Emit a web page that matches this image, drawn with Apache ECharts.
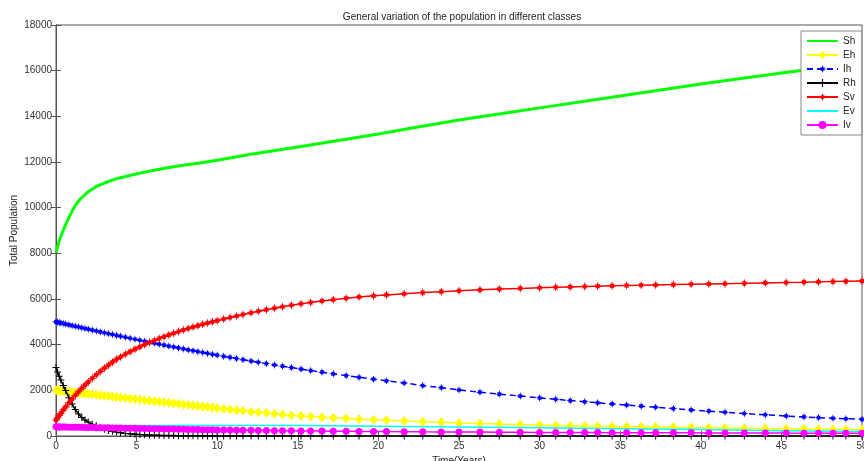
<!DOCTYPE html>
<html>
<head>
<meta charset="utf-8">
<script src="https://cdn.jsdelivr.net/npm/echarts@6/dist/echarts.min.js"></script>
<style>html,body{margin:0;padding:0;background:#fff}#c{width:864px;height:461px}</style>
</head>
<body>
<div id="c"></div>
<script>
// time points (years) of the solver output
var t = [0,0.1,0.2,0.3,0.45,0.6,0.8,1.0,1.2,1.4,1.6,1.8,2.0,2.25,2.5,2.75,3.0,3.25,3.5,3.75,4.0,4.3,4.6,4.9,5.2,5.5,5.8,6.1,6.4,6.7,7.0,7.3,7.6,7.9,8.2,8.5,8.8,9.1,9.4,9.7,10.0,10.4,10.8,11.2,11.6,12.1,12.55,13.05,13.55,14.05,14.6,15.2,15.8,16.5,17.2,18.0,18.8,19.7,20.5,21.6,22.75,23.9,25.0,26.3,27.5,28.8,30.0,31.0,31.9,32.8,33.6,34.5,35.4,36.3,37.2,38.3,39.4,40.5,41.5,42.7,44.0,45.3,46.4,47.3,48.2,49.0,50.0];

var Eh = [2000,1992,1984,1977,1965,1953,1938,1922,1906,1891,1875,1860,1844,1825,1805,1786,1766,1747,1727,1708,1688,1665,1641,1618,1594,1571,1548,1524,1501,1477,1454,1430,1407,1384,1360,1337,1314,1290,1267,1244,1220,1190,1160,1130,1101,1065,1035,1003,972,942,911,880,852,822,794,765,738,710,686,655,625,597,572,545,522,500,480,465,452,440,430,420,410,400,391,380,370,360,350,339,327,315,305,297,289,282,274];

var Ih = [5000,4984,4967,4951,4926,4902,4869,4837,4805,4773,4741,4709,4678,4638,4599,4560,4522,4484,4446,4408,4370,4326,4281,4237,4193,4150,4107,4064,4022,3980,3938,3897,3856,3815,3775,3735,3695,3656,3617,3579,3540,3489,3440,3390,3342,3282,3229,3170,3113,3057,2996,2931,2867,2795,2724,2646,2570,2487,2416,2322,2210,2115,2015,1920,1835,1750,1670,1610,1550,1500,1455,1405,1355,1305,1260,1200,1140,1088,1040,985,930,876,835,805,778,755,730];

var Rh = [3000,2800,2620,2450,2210,1990,1680,1400,1160,960,810,700,610,520,445,375,300,245,205,170,140,115,95,78,64,53,44,36,30,25,21,18,15,12,10,9,7,6,5,4,4,3,3,2,2,2,1,1,1,1,1,0,0,0,0,0,0,0,0,0,0,0,0,0,0,0,0,0,0,0,0,0,0,0,0,0,0,0,0,0,0,0,0,0,0,0,0];

var Sv = [700,800,898,995,1137,1275,1452,1622,1785,1940,2088,2230,2365,2527,2682,2830,2971,3106,3235,3358,3460,3580,3695,3803,3905,4002,4095,4183,4268,4350,4428,4503,4575,4643,4708,4771,4832,4890,4946,5000,5052,5122,5190,5256,5320,5396,5462,5532,5598,5660,5725,5790,5850,5914,5972,6032,6085,6138,6180,6232,6280,6322,6360,6400,6433,6465,6492,6513,6530,6546,6560,6575,6589,6602,6615,6630,6645,6659,6671,6685,6705,6722,6737,6750,6762,6773,6785];

var Iv = [400,398,397,395,393,391,388,386,383,380,378,375,372,369,366,362,359,356,352,349,346,342,338,334,330,326,322,318,314,310,306,302,298,294,290,286,282,278,275,271,267,263,259,255,251,247,243,239,235,231,227,222,218,214,210,205,201,196,192,188,183,179,175,170,166,162,158,155,153,151,149,147,145,143,141,139,137,135,133,131,129,126,124,122,120,118,116];

// unmarked series with their own sampling
var shT = [0,0.2,0.45,0.7,1.0,1.2,1.5,2.0,2.5,3.0,3.75,5,6,7,8,9,10,12,15,18,20,22,25,28,30,35,40,45,50];
var Sh  = [8030,8550,9020,9420,9850,10100,10380,10700,10930,11080,11270,11480,11630,11760,11870,11970,12080,12330,12660,13000,13230,13480,13840,14160,14370,14890,15420,15900,16350];
var evT = [0,1,2,3,5,8,10,12,15,20,25,30,35,40,45,50];
var Ev  = [400,415,430,440,455,465,465,462,455,430,395,360,320,280,235,195];

var xTicks = {min: 0, max: 50, interval: 5};
var yTicks = {min: 0, max: 18000, interval: 2000};

function pairs(xs, ys) { return xs.map(function (x, i) { return [x, ys[i]]; }); }

var FONT = 'Liberation Sans, Arial, sans-serif';
var star8 = 'path://M5,0L5.9,3L7.6,2.4L7,4.1L10,5L7,5.9L7.6,7.6L5.9,7L5,10L4.1,7L2.4,7.6L3,5.9L0,5L3,4.1L2.4,2.4L4.1,3Z';
var plus = 'path://M4.3,0H5.7V4.3H10V5.7H5.7V10H4.3V5.7H0V4.3H4.3Z';

var chart = echarts.init(document.getElementById('c'), null, {renderer: 'canvas'});
var axisCol = '#555';
chart.setOption({
  animation: false,
  backgroundColor: '#fff',
  title: {
    text: 'General variation of the population in different classes',
    left: 457, top: 7, textAlign: 'center',
    textStyle: {fontSize: 10, fontWeight: 'normal', color: '#222', fontFamily: FONT}
  },
  grid: {left: 56, right: 2, top: 25, bottom: 25, containLabel: false, outerBoundsMode: 'none',
         show: true, borderColor: axisCol, borderWidth: 1, backgroundColor: '#fff'},
  legend: {
    orient: 'vertical', left: 801, top: 31,
    padding: [5, 6, 5, 5], itemGap: 4, itemWidth: 31, itemHeight: 10,
    backgroundColor: '#fff', borderColor: '#888', borderWidth: 1, borderRadius: 0,
    textStyle: {fontSize: 10, color: '#222', fontFamily: FONT, lineHeight: 10},
    data: [
      {name: 'Sh', itemStyle: {opacity: 0}},
      'Eh', 'Ih', 'Rh', 'Sv',
      {name: 'Ev', itemStyle: {opacity: 0}},
      'Iv'
    ]
  },
  xAxis: [{
    type: 'value', min: xTicks.min, max: xTicks.max, interval: xTicks.interval,
    name: 'Time(Years)', nameLocation: 'middle', nameGap: 20, nameMoveOverlap: false,
    nameTextStyle: {fontSize: 10, color: '#222', fontFamily: FONT},
    axisLine: {show: true, lineStyle: {color: axisCol}},
    axisTick: {show: true, inside: true, length: 5, lineStyle: {color: axisCol}},
    axisLabel: {fontSize: 10, color: '#333', fontFamily: FONT, margin: 5},
    splitLine: {show: false}
  }, {
    type: 'value', position: 'top', min: xTicks.min, max: xTicks.max, interval: xTicks.interval,
    axisLine: {show: true, lineStyle: {color: axisCol}},
    axisTick: {show: true, inside: true, length: 5, lineStyle: {color: axisCol}},
    axisLabel: {show: false}, splitLine: {show: false}
  }],
  yAxis: [{
    type: 'value', min: yTicks.min, max: yTicks.max, interval: yTicks.interval,
    name: 'Total Population', nameLocation: 'middle', nameGap: 37, nameMoveOverlap: false,
    nameTextStyle: {fontSize: 10, color: '#222', fontFamily: FONT},
    axisLine: {show: true, lineStyle: {color: axisCol}},
    axisTick: {show: true, inside: true, length: 5, lineStyle: {color: axisCol}},
    axisLabel: {fontSize: 10, color: '#333', fontFamily: FONT, margin: 4,
                formatter: function (v) { return String(v); }},
    splitLine: {show: false}
  }, {
    type: 'value', position: 'right', min: yTicks.min, max: yTicks.max, interval: yTicks.interval,
    axisLine: {show: true, lineStyle: {color: axisCol}},
    axisTick: {show: true, inside: true, length: 5, lineStyle: {color: axisCol}},
    axisLabel: {show: false}, splitLine: {show: false}
  }],
  series: [
    {name: 'Sh', type: 'line', data: pairs(shT, Sh), showSymbol: false, symbol: 'none',
     lineStyle: {color: '#00ff00', width: 3}, itemStyle: {color: '#00ff00'}, z: 2},
    {name: 'Eh', type: 'line', data: pairs(t, Eh), symbol: 'diamond', symbolSize: [8, 10], showAllSymbol: true,
     lineStyle: {color: '#ffff00', width: 1.5}, itemStyle: {color: '#ffff00'}, z: 3},
    {name: 'Ih', type: 'line', data: pairs(t, Ih), symbol: star8, symbolSize: 8, showAllSymbol: true,
     lineStyle: {color: '#0000ff', width: 1.5, type: [6, 4]}, itemStyle: {color: '#0000ff'}, z: 4},
    {name: 'Rh', type: 'line', data: pairs(t, Rh), symbol: plus, symbolSize: 7, showAllSymbol: true,
     lineStyle: {color: '#000000', width: 1.5}, itemStyle: {color: '#000000'}, z: 5},
    {name: 'Sv', type: 'line', data: pairs(t, Sv), symbol: star8, symbolSize: 9, showAllSymbol: true,
     lineStyle: {color: '#ff0000', width: 1.5}, itemStyle: {color: '#ff0000'}, z: 6},
    {name: 'Ev', type: 'line', data: pairs(evT, Ev), showSymbol: false, symbol: 'none',
     lineStyle: {color: '#00ffff', width: 1.5}, itemStyle: {color: '#00ffff'}, z: 7},
    {name: 'Iv', type: 'line', data: pairs(t, Iv), symbol: 'circle', symbolSize: 7, showAllSymbol: true,
     lineStyle: {color: '#ff00ff', width: 1.5}, itemStyle: {color: '#ff00ff'}, z: 8}
  ]
});
</script>
</body>
</html>
